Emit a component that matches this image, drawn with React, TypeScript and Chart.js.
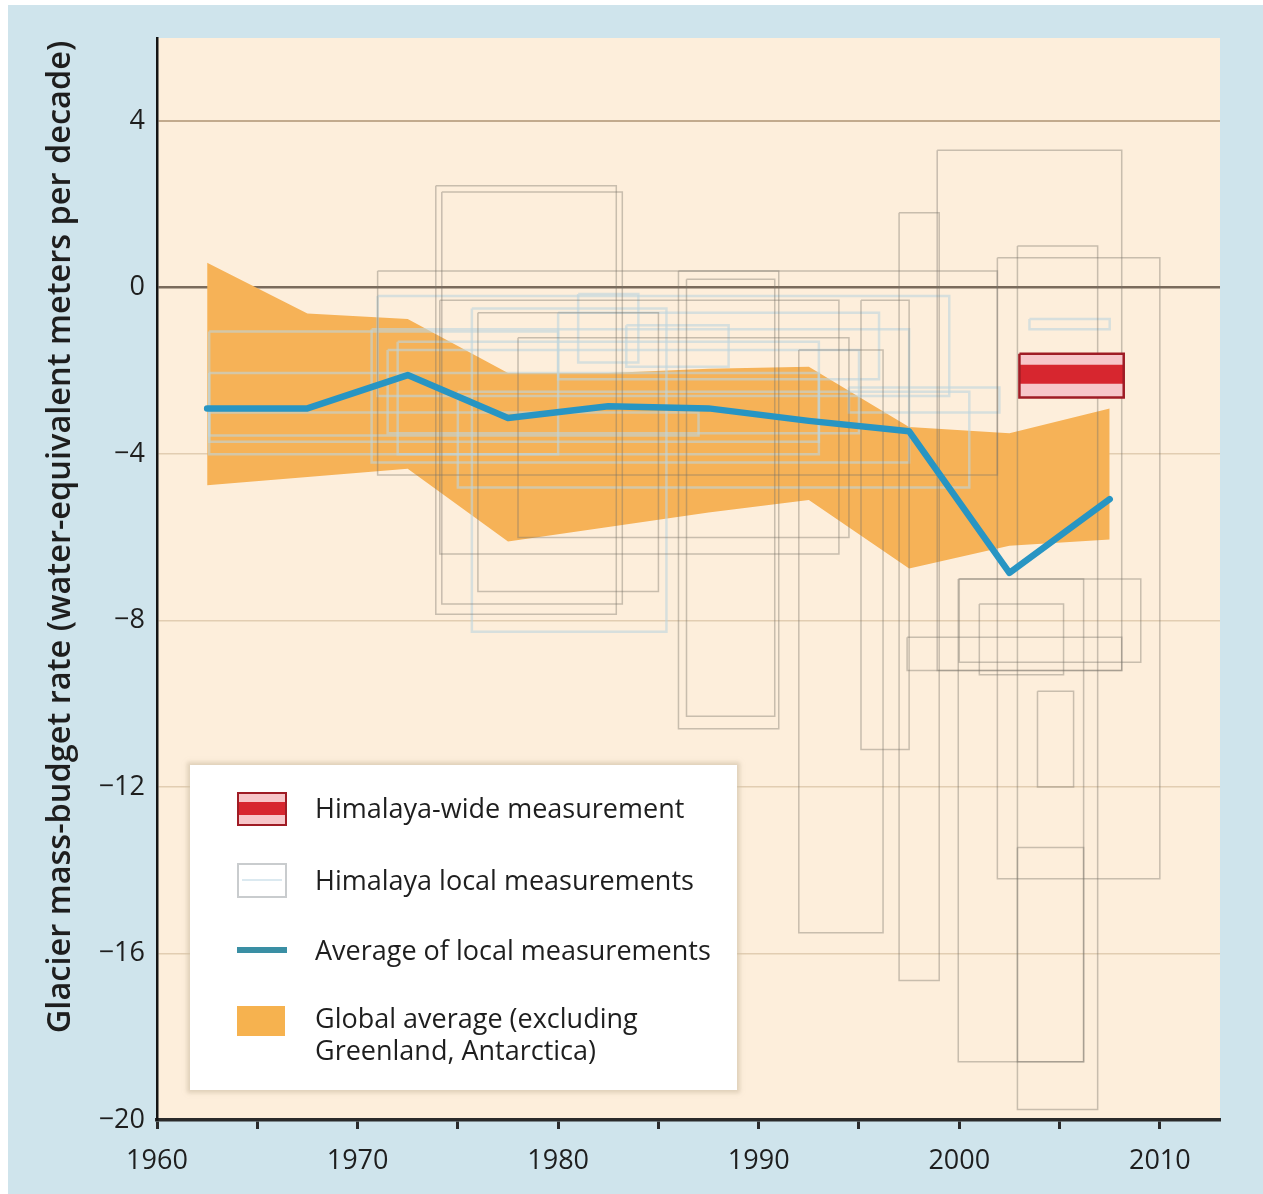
import React, { useEffect, useRef } from "react";
import { Chart, registerables } from "chart.js";

Chart.register(...registerables);

// Five-year windows (mid-points) used for the global band and the local average
const bandYears = [1962.5, 1967.5, 1972.5, 1977.5, 1982.5, 1987.5, 1992.5, 1997.5, 2002.5, 2007.5];
const globalUpper = [0.6, -0.62, -0.75, -2.05, -2.05, -1.95, -1.9, -3.35, -3.5, -2.9];
const globalLower = [-4.75, -4.55, -4.35, -6.1, -5.75, -5.4, -5.1, -6.75, -6.2, -6.05];
const localAverage = [-2.9, -2.9, -2.1, -3.13, -2.85, -2.9, -3.2, -3.45, -6.85, -5.08];

// Himalaya-wide estimate: period and value ranges (outer uncertainty, central band)
const wideSpan = [2003.0, 2008.2];
const wideRange = [-1.59, -2.64];
const wideCore = [-1.85, -2.31];

// Local glacier measurements: [start year, end year, upper value, lower value]
const localGlacierSurveys = [
  [1973.9, 1982.9, 2.45, -7.85],
  [1974.2, 1983.2, 2.3, -7.6],
  [1971.0, 2001.9, 0.4, -4.5],
  [1986.0, 1991.0, 0.4, -10.6],
  [1986.4, 1990.8, 0.2, -10.3],
  [1974.1, 1994.0, -0.3, -6.4],
  [1992.0, 1996.2, -1.5, -15.5],
  [1995.1, 1997.5, -0.3, -11.1],
  [1997.0, 1999.0, 1.8, -16.65],
  [1998.9, 2008.1, 3.3, -9.2],
  [2001.9, 2010.0, 0.72, -14.2],
  [2002.9, 2006.9, 1.0, -19.75],
  [1999.95, 2006.2, -7.0, -18.6],
  [2000.0, 2009.05, -7.0, -9.0],
  [1997.4, 2008.1, -8.4, -9.2],
  [2001.0, 2005.2, -7.6, -9.3],
  [2002.9, 2006.2, -13.45, -18.6],
  [1976.0, 1985.0, -0.6, -7.3],
  [1978.0, 1994.5, -1.2, -6.0],
  [2003.9, 2005.7, -9.7, -12.0],
];
const localStakeSeries = [
  [1962.6, 1993.0, -2.05, -3.7],
  [1962.6, 1987.0, -3.0, -3.55],
  [1962.6, 1980.0, -1.05, -4.0],
  [1970.7, 1997.5, -1.0, -4.2],
  [1971.5, 1995.0, -1.5, -3.5],
  [1971.0, 1999.5, -0.2, -2.6],
  [1972.0, 1993.0, -1.3, -4.0],
  [1975.0, 2000.5, -2.5, -4.8],
  [1980.0, 1996.0, -0.6, -2.2],
  [1981.0, 1984.0, -0.15, -1.8],
  [1983.4, 1988.5, -0.9, -1.9],
  [1975.7, 1985.4, -0.5, -8.27],
  [1994.5, 2002.0, -2.4, -3.0],
  [2003.5, 2007.5, -0.75, -1.0],
];

const xTicks = [1960, 1965, 1970, 1975, 1980, 1985, 1990, 1995, 2000, 2005, 2010];
const yTicks = [4, 0, -4, -8, -12, -16, -20];

const yTitle = "Glacier mass-budget rate (water-equivalent meters per decade)";
const legendLabels = [
  "Himalaya-wide measurement",
  "Himalaya local measurements",
  "Average of local measurements",
  "Global average (excluding",
  "Greenland, Antarctica)",
];

const FONT = "'Open Sans', 'Noto Sans', 'DejaVu Sans', sans-serif";
const TEXT = "#1e1e1e";

function closedRect(r: number[]) {
  const [x0, x1, hi, lo] = r;
  return [
    { x: x0, y: hi },
    { x: x1, y: hi },
    { x: x1, y: lo },
    { x: x0, y: lo },
    { x: x0, y: hi },
  ];
}

const plotBackground = {
  id: "plotBackground",
  beforeDraw(chart: any) {
    const { ctx, chartArea: a } = chart;
    ctx.save();
    ctx.fillStyle = "#fdeedb";
    ctx.fillRect(a.left, a.top, a.right - a.left, a.bottom - a.top);
    ctx.restore();
  },
};

const minus = (v: number) => (v < 0 ? "\u2212" + Math.abs(v) : String(v));

export default function App() {
  const canvasRef = useRef<HTMLCanvasElement>(null);

  useEffect(() => {
    const base = { pointRadius: 0, pointHoverRadius: 0, tension: 0 };
    const datasets: any[] = [
      {
        ...base,
        label: "global-upper",
        data: bandYears.map((x, i) => ({ x, y: globalUpper[i] })),
        borderWidth: 0,
        borderColor: "rgba(0,0,0,0)",
        fill: false,
        order: 50,
      },
      {
        ...base,
        label: "Global average (excluding Greenland, Antarctica)",
        data: bandYears.map((x, i) => ({ x, y: globalLower[i] })),
        borderWidth: 0,
        borderColor: "rgba(0,0,0,0)",
        backgroundColor: "#f6b257",
        fill: "-1",
        order: 50,
      },
      ...localStakeSeries.map((r) => ({
        ...base,
        label: "Himalaya local measurements",
        data: closedRect(r),
        borderColor: "rgba(190,214,222,0.6)",
        borderWidth: 2.5,
        fill: false,
        order: 41,
      })),
      ...localGlacierSurveys.map((r) => ({
        ...base,
        label: "Himalaya local measurements",
        data: closedRect(r),
        borderColor: "rgba(120,114,104,0.4)",
        borderWidth: 1.5,
        fill: false,
        order: 40,
      })),
      {
        ...base,
        label: "wide-range",
        data: wideSpan.map((x) => ({ x, y: wideRange[0] })),
        borderWidth: 0,
        borderColor: "rgba(0,0,0,0)",
        backgroundColor: "#f7c6c9",
        fill: { value: wideRange[1] },
        order: 20,
      },
      {
        ...base,
        label: "wide-core",
        data: wideSpan.map((x) => ({ x, y: wideCore[0] })),
        borderWidth: 0,
        borderColor: "rgba(0,0,0,0)",
        backgroundColor: "#d7262f",
        fill: { value: wideCore[1] },
        order: 19,
      },
      {
        ...base,
        label: "Himalaya-wide measurement",
        data: closedRect([wideSpan[0], wideSpan[1], wideRange[0], wideRange[1]]),
        borderColor: "#9f1c25",
        borderWidth: 2.5,
        fill: false,
        order: 18,
      },
      {
        ...base,
        label: "Average of local measurements",
        data: bandYears.map((x, i) => ({ x, y: localAverage[i] })),
        borderColor: "#2895c3",
        borderWidth: 6.5,
        borderJoinStyle: "round",
        borderCapStyle: "round",
        fill: false,
        order: 10,
      },
    ];

    const chart = new Chart(canvasRef.current as HTMLCanvasElement, {
      type: "line",
      data: { datasets },
      plugins: [plotBackground],
      options: {
        animation: false,
        responsive: false,
        devicePixelRatio: 1,
        events: [],
        layout: { padding: { left: 0, top: 33, right: 43, bottom: 14 } },
        plugins: {
          legend: { display: false },
          tooltip: { enabled: false },
          title: { display: false },
        },
        scales: {
          x: {
            type: "linear",
            min: 1960,
            max: 2013,
            afterBuildTicks: (axis: any) => {
              axis.ticks = xTicks.map((v) => ({ value: v }));
            },
            afterFit: (axis: any) => {
              axis.height = 60;
            },
            ticks: {
              autoSkip: false,
              maxRotation: 0,
              padding: 16,
              color: TEXT,
              font: { family: FONT, size: 27 },
              callback: (v: any) => (Number(v) % 10 === 0 ? String(v) : ""),
            },
            grid: {
              drawOnChartArea: false,
              drawTicks: true,
              tickLength: 9,
              tickWidth: 3,
              tickColor: "#2a2a2a",
              color: "rgba(0,0,0,0)",
            },
            border: { display: true, color: "#2a2a2a", width: 3.5 },
          },
          y: {
            type: "linear",
            min: -20,
            max: 6,
            afterBuildTicks: (axis: any) => {
              axis.ticks = yTicks.map((v) => ({ value: v }));
            },
            afterFit: (axis: any) => {
              axis.width = 149;
            },
            ticks: {
              padding: 12,
              color: TEXT,
              font: { family: FONT, size: 27 },
              callback: (v: any) => minus(Number(v)),
            },
            grid: {
              drawTicks: false,
              color: (ctx: any) => {
                const v = ctx.tick ? ctx.tick.value : null;
                if (v === 0) return "#7a6b5c";
                if (v === 4) return "#c2aa8d";
                return "#e2cdb2";
              },
              lineWidth: (ctx: any) => {
                const v = ctx.tick ? ctx.tick.value : null;
                if (v === 0) return 2.5;
                if (v === 4) return 2;
                return 1.5;
              },
            },
            border: { display: true, color: "#141414", width: 2.5 },
          },
        },
      },
    } as any);
    return () => chart.destroy();
  }, []);

  const legendText = (label: string, centerY: number) => (
    <div
      style={{
        position: "absolute",
        left: 315,
        top: centerY - 20,
        height: 40,
        lineHeight: "40px",
        fontFamily: FONT,
        fontSize: 27,
        color: TEXT,
        whiteSpace: "nowrap",
      }}
    >
      {label}
    </div>
  );

  return (
    <div
      style={{
        position: "absolute",
        left: 0,
        top: 0,
        width: 1263,
        height: 1194,
        background: "#ffffff",
        overflow: "hidden",
      }}
    >
      <div
        style={{
          position: "absolute",
          left: 8,
          top: 5,
          width: 1255,
          height: 1189,
          background: "#cfe4ec",
        }}
      />
      <canvas
        ref={canvasRef}
        width={1255}
        height={1189}
        style={{ position: "absolute", left: 8, top: 5, width: 1255, height: 1189 }}
      />
      <div
        style={{
          position: "absolute",
          left: 58 - 600,
          top: 537 - 22,
          width: 1200,
          height: 44,
          lineHeight: "44px",
          textAlign: "center",
          transform: "rotate(-90deg)",
          transformOrigin: "center",
          fontFamily: FONT,
          fontWeight: 600,
          fontSize: 32.5,
          color: TEXT,
          whiteSpace: "nowrap",
        }}
      >
        {yTitle}
      </div>
      <div
        style={{
          position: "absolute",
          left: 190,
          top: 765,
          width: 547,
          height: 325,
          background: "#ffffff",
          boxShadow: "0 0 4px 3px rgba(205,190,165,0.6)",
        }}
      />
      <div
        style={{
          position: "absolute",
          left: 237,
          top: 792,
          width: 50,
          height: 34,
          boxSizing: "border-box",
          border: "2.5px solid #9f1c25",
          background: "#f7c6c9",
        }}
      >
        <div
          style={{
            position: "absolute",
            left: 0,
            right: 0,
            top: 8,
            height: 13,
            background: "#d7262f",
          }}
        />
      </div>
      <div
        style={{
          position: "absolute",
          left: 237,
          top: 863,
          width: 50,
          height: 35,
          boxSizing: "border-box",
          border: "2px solid #c9ccce",
          background: "#ffffff",
        }}
      >
        <div
          style={{
            position: "absolute",
            left: 3,
            right: 3,
            top: 14,
            height: 2,
            background: "#dbe9f0",
          }}
        />
      </div>
      <div
        style={{
          position: "absolute",
          left: 237,
          top: 947,
          width: 50,
          height: 6,
          background: "#3a8fa4",
        }}
      />
      <div
        style={{
          position: "absolute",
          left: 237,
          top: 1006,
          width: 48,
          height: 30,
          background: "#f6b24f",
        }}
      />
      {legendText(legendLabels[0], 808)}
      {legendText(legendLabels[1], 880)}
      {legendText(legendLabels[2], 950)}
      {legendText(legendLabels[3], 1018)}
      {legendText(legendLabels[4], 1050)}
    </div>
  );
}
